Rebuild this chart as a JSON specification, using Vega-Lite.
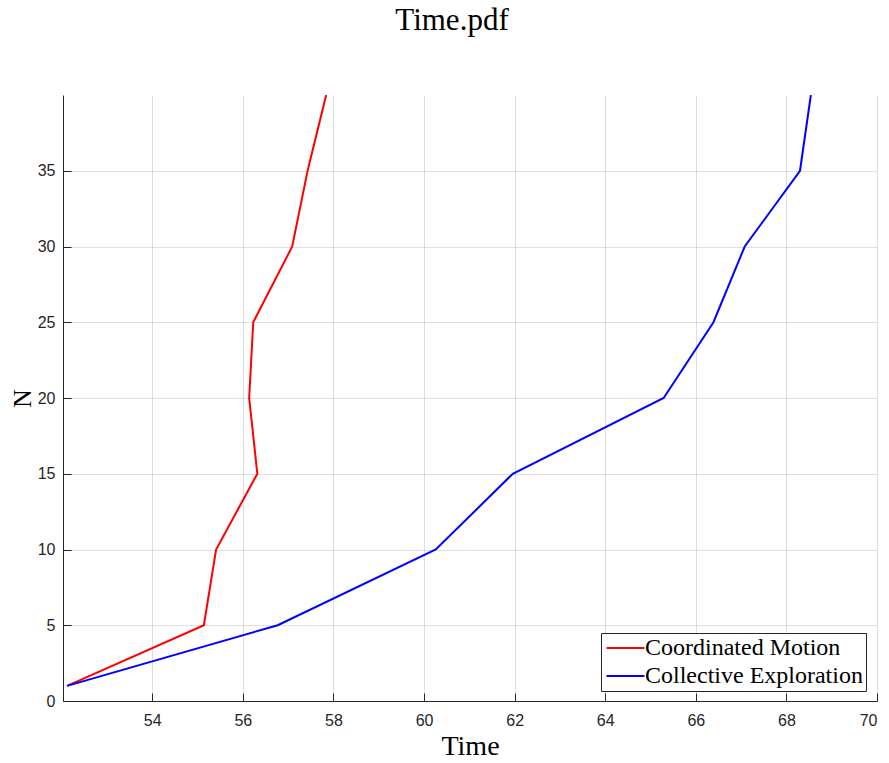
{
  "$schema": "https://vega.github.io/schema/vega-lite/v6.json",
  "width": 814,
  "height": 606,
  "autosize": {"type": "none"},
  "padding": {"left": 63, "top": 95, "right": 12, "bottom": 62},
  "background": "white",
  "title": {
    "text": "Time.pdf",
    "font": "Liberation Serif",
    "fontSize": 31,
    "fontWeight": "normal",
    "color": "#000000",
    "anchor": "middle",
    "frame": "group",
    "dx": -18,
    "baseline": "alphabetic",
    "offset": 34
  },
  "data": {
    "values": [
      {"series": "Coordinated Motion", "Time": 52.12, "N": 1},
      {"series": "Coordinated Motion", "Time": 55.14, "N": 5},
      {"series": "Coordinated Motion", "Time": 55.41, "N": 10},
      {"series": "Coordinated Motion", "Time": 56.32, "N": 15},
      {"series": "Coordinated Motion", "Time": 56.14, "N": 20},
      {"series": "Coordinated Motion", "Time": 56.23, "N": 25},
      {"series": "Coordinated Motion", "Time": 57.09, "N": 30},
      {"series": "Coordinated Motion", "Time": 57.43, "N": 35},
      {"series": "Coordinated Motion", "Time": 57.84, "N": 40},
      {"series": "Collective Exploration", "Time": 52.12, "N": 1},
      {"series": "Collective Exploration", "Time": 56.77, "N": 5},
      {"series": "Collective Exploration", "Time": 60.26, "N": 10},
      {"series": "Collective Exploration", "Time": 61.96, "N": 15},
      {"series": "Collective Exploration", "Time": 65.29, "N": 20},
      {"series": "Collective Exploration", "Time": 66.39, "N": 25},
      {"series": "Collective Exploration", "Time": 67.08, "N": 30},
      {"series": "Collective Exploration", "Time": 68.30, "N": 35},
      {"series": "Collective Exploration", "Time": 68.54, "N": 40}
    ]
  },
  "mark": {"type": "line", "strokeWidth": 2, "clip": true},
  "encoding": {
    "x": {
      "field": "Time",
      "type": "quantitative",
      "scale": {"domain": [52.03, 70], "nice": false, "zero": false},
      "axis": {
        "title": "Time",
        "values": [54, 56, 58, 60, 62, 64, 66, 68, 70],
        "titleFont": "Liberation Serif",
        "titleFontSize": 28,
        "titleFontWeight": "normal",
        "titleColor": "#000000",
        "titleBaseline": "alphabetic",
        "titleY": 53,
        "titleX": 407,
        "titleAnchor": "middle",
        "labelFont": "Liberation Sans",
        "labelFontSize": 16,
        "labelColor": "#262626",
        "labelPadding": 19,
        "tickSize": -8,
        "tickColor": "#262626",
        "domainColor": "#262626",
        "gridColor": "#262626",
        "gridOpacity": 0.15
      }
    },
    "y": {
      "field": "N",
      "type": "quantitative",
      "scale": {"domain": [0, 40], "nice": false},
      "axis": {
        "title": "N",
        "values": [0, 5, 10, 15, 20, 25, 30, 35],
        "titleFont": "Liberation Serif",
        "titleFontSize": 26,
        "titleFontWeight": "normal",
        "titleColor": "#000000",
        "titleAngle": -90,
        "titleBaseline": "alphabetic",
        "titleAlign": "center",
        "titleX": -33,
        "titleY": 303,
        "labelFont": "Liberation Sans",
        "labelFontSize": 16,
        "labelColor": "#262626",
        "labelPadding": 16,
        "tickSize": -8,
        "tickColor": "#262626",
        "domainColor": "#262626",
        "gridColor": "#262626",
        "gridOpacity": 0.15
      }
    },
    "color": {
      "field": "series",
      "type": "nominal",
      "scale": {"domain": ["Coordinated Motion", "Collective Exploration"], "range": ["#ff0000", "#0000ff"]},
      "legend": {
        "title": null,
        "orient": "none",
        "legendX": 538,
        "legendY": 538,
        "padding": 3,
        "fillColor": "white",
        "strokeColor": "#262626",
        "symbolType": "M-1,0H3",
        "symbolSize": 361,
        "symbolStrokeWidth": 2,
        "labelFont": "Liberation Serif",
        "labelFontSize": 24,
        "labelColor": "#000000",
        "labelOffset": 17,
        "labelLimit": 500,
        "rowPadding": 4
      }
    },
    "order": {"field": "N", "type": "quantitative"}
  },
  "config": {
    "view": {"stroke": null}
  }
}
